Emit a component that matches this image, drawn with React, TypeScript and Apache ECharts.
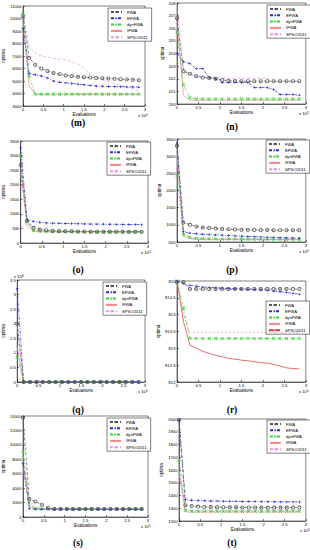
import React, { useEffect, useRef } from "react";
import * as echarts from "echarts";

const evals = [0, 0.15, 0.3, 0.45, 0.6, 0.75, 0.9, 1.05, 1.2, 1.35, 1.5, 1.65, 1.8, 1.95, 2.1, 2.25, 2.4, 2.55, 2.7, 2.85];
const algNames = ["FWA", "EFWA", "dynFWA", "IFWA", "SPSO2011"];
const panelLabels = ["(m)", "(n)", "(o)", "(p)", "(q)", "(r)", "(s)", "(t)"];
const xTicks = { min: 0, max: 3, interval: 0.5 };

// (m)
const mFWA = [10200, 6850, 6300, 6000, 5800, 5650, 5550, 5450, 5400, 5350, 5300, 5280, 5250, 5230, 5200, 5180, 5150, 5120, 5100, 5070];
const mEFWA = [9200, 5600, 5500, 5400, 5250, 5000, 4900, 4850, 4800, 4750, 4700, 4650, 4600, 4580, 4560, 4550, 4540, 4530, 4520, 4510];
const mDyn = [10400, 5400, 3950, 3950, 3950, 3950, 3950, 3950, 3950, 3950, 3950, 3950, 3950, 3950, 3950, 3950, 3950, 3950, 3950, 3950];
const mIFWA = [9800, 4600, 3960, 3950, 3950, 3950, 3950, 3950, 3950, 3950, 3945, 3945, 3945, 3945, 3945, 3940, 3940, 3940, 3940, 3940];
const mSPSO = [10300, 7700, 7300, 7000, 6900, 6800, 6750, 6700, 6550, 6350, 6000, 5600, 5300, 5100, 4950, 4800, 4650, 4500, 4350, 4250];
// (n)
const nFWA = [206.8, 202.6, 202.4, 202.2, 202.1, 202.05, 202.0, 201.9, 201.85, 201.82, 201.8, 201.8, 201.8, 201.8, 201.8, 201.8, 201.8, 201.8, 201.8, 201.8];
const nEFWA = [204.0, 203.35, 203.2, 202.8, 202.8, 202.1, 202.0, 201.7, 201.7, 201.7, 201.7, 201.7, 201.3, 201.3, 201.3, 201.15, 200.75, 200.75, 200.75, 200.7];
const nDyn = [205.7, 201.5, 200.5, 200.4, 200.4, 200.4, 200.4, 200.4, 200.4, 200.4, 200.4, 200.4, 200.4, 200.4, 200.4, 200.4, 200.4, 200.4, 200.4, 200.4];
const nIFWA = [206.6, 200.7, 200.3, 200.3, 200.3, 200.3, 200.3, 200.3, 200.3, 200.3, 200.3, 200.3, 200.3, 200.3, 200.3, 200.3, 200.3, 200.3, 200.3, 200.3];
const nSPSO = [207.8, 202.8, 202.3, 202.2, 202.15, 202.1, 202.1, 202.05, 202.05, 202.05, 202.05, 202.05, 202.05, 202.05, 202.05, 201.8, 201.8, 201.8, 201.8, 201.8];
// (o)
const oFWA = [2680, 760, 520, 460, 440, 420, 410, 400, 400, 395, 395, 390, 390, 390, 390, 385, 385, 385, 385, 385];
const oEFWA = [3270, 800, 740, 710, 690, 680, 675, 670, 665, 660, 655, 650, 648, 645, 642, 640, 637, 635, 632, 630];
const oDyn = [3020, 720, 430, 400, 395, 390, 390, 385, 385, 385, 380, 380, 380, 380, 380, 380, 380, 380, 380, 380];
const oIFWA = [2500, 570, 400, 385, 380, 380, 380, 380, 380, 380, 380, 380, 380, 380, 380, 380, 380, 380, 380, 380];
const oSPSO = [2340, 680, 460, 420, 410, 405, 400, 400, 400, 400, 400, 400, 400, 400, 400, 400, 400, 400, 400, 400];
// (p)
const pFWA = [3300, 1070, 1000, 955, 925, 905, 890, 880, 870, 865, 860, 855, 850, 850, 848, 845, 845, 843, 842, 840];
const pEFWA = [3380, 800, 760, 740, 725, 715, 705, 700, 690, 680, 670, 660, 655, 648, 640, 635, 628, 622, 618, 612];
const pDyn = [2450, 720, 640, 610, 600, 595, 590, 590, 588, 585, 585, 583, 582, 580, 580, 578, 578, 575, 575, 575];
const pIFWA = [2990, 665, 590, 575, 570, 570, 570, 570, 570, 570, 570, 570, 570, 570, 570, 570, 570, 570, 570, 570];
const pSPSO = [3200, 720, 620, 600, 590, 585, 585, 585, 585, 585, 585, 585, 585, 585, 585, 585, 585, 585, 585, 585];
// (q)
const qFWA = [2.0, 0, 0, 0, 0, 0, 0, 0, 0, 0, 0, 0, 0, 0, 0, 0, 0, 0, 0, 0];
const qEFWA = [3.2, 0, 0, 0, 0, 0, 0, 0, 0, 0, 0, 0, 0, 0, 0, 0, 0, 0, 0, 0];
const qDyn = [0.85, 0, 0, 0, 0, 0, 0, 0, 0, 0, 0, 0, 0, 0, 0, 0, 0, 0, 0, 0];
const qIFWA = [1.2, 0, 0, 0, 0, 0, 0, 0, 0, 0, 0, 0, 0, 0, 0, 0, 0, 0, 0, 0];
const qSPSO = [1.9, 0, 0, 0, 0, 0, 0, 0, 0, 0, 0, 0, 0, 0, 0, 0, 0, 0, 0, 0];
// (r)
const rFWA = [814.97, 814.96, 814.76, 814.76, 814.76, 814.76, 814.76, 814.76, 814.76, 814.76, 814.76, 814.76, 814.76, 814.76, 814.76, 814.76, 814.76, 814.76, 814.76, 814.76];
const rEFWA = [815, 814.92, 814.87, 814.85, 814.82, 814.81, 814.8, 814.79, 814.78, 814.77, 814.76, 814.75, 814.74, 814.73, 814.72, 814.7, 814.68, 814.66, 814.63, 814.61];
const rDyn = [815, 814.2, 813.29, 813.29, 813.29, 813.29, 813.29, 813.29, 813.29, 813.29, 813.29, 813.29, 813.29, 813.29, 813.29, 813.29, 813.29, 813.29, 813.29, 813.29];
const rIFWA = [815, 814.0, 813.47, 813.47, 813.47, 813.47, 813.47, 813.47, 813.47, 813.47, 813.47, 813.47, 813.47, 813.47, 813.47, 813.47, 813.47, 813.47, 813.47, 813.47];
const rSPSO = [815, 813.8, 813.1, 813.0, 812.91, 812.85, 812.79, 812.75, 812.7, 812.68, 812.65, 812.63, 812.6, 812.58, 812.56, 812.52, 812.47, 812.42, 812.4, 812.39];
// (s)
const sFWA = [13800, 2490, 2165, 1700, 1240, 1100, 1100, 1100, 1100, 1100, 1100, 1100, 1100, 1100, 1100, 1100, 1100, 1100, 1100, 1100];
const sEFWA = [7460, 1150, 1100, 1080, 1080, 1080, 1080, 1080, 1080, 1080, 1080, 1080, 1080, 1080, 1080, 1080, 1080, 1080, 1080, 1080];
const sDyn = [9070, 1930, 1150, 1100, 1100, 1100, 1100, 1100, 1100, 1100, 1100, 1100, 1100, 1100, 1100, 1100, 1100, 1100, 1100, 1100];
const sIFWA = [7000, 1500, 1150, 1100, 1100, 1100, 1100, 1100, 1100, 1100, 1100, 1100, 1100, 1100, 1100, 1100, 1100, 1100, 1100, 1100];
const sSPSO = [8400, 2200, 1500, 1200, 1150, 1120, 1110, 1100, 1100, 1100, 1100, 1100, 1100, 1100, 1100, 1100, 1100, 1100, 1100, 1100];
// (t)
const tFWA = [1995, 1324, 1318, 1313, 1310, 1309, 1308, 1308, 1307, 1307, 1306, 1306, 1306, 1305, 1305, 1305, 1305, 1305, 1305, 1305];
const tEFWA = [1990, 1368, 1363, 1360, 1358, 1357, 1356, 1355, 1355, 1354, 1353, 1353, 1352, 1352, 1351, 1351, 1350, 1350, 1350, 1350];
const tDyn = [1680, 1284, 1276, 1276, 1276, 1276, 1276, 1276, 1276, 1276, 1276, 1276, 1276, 1276, 1276, 1276, 1276, 1276, 1276, 1276];
const tIFWA = [1600, 1271, 1270, 1270, 1270, 1270, 1270, 1270, 1270, 1270, 1270, 1270, 1270, 1270, 1270, 1270, 1270, 1270, 1270, 1270];
const tSPSO = [1560, 1290, 1285, 1285, 1285, 1285, 1285, 1285, 1285, 1285, 1285, 1285, 1285, 1285, 1285, 1285, 1285, 1285, 1285, 1285];

const panelData = [
  [mFWA, mEFWA, mDyn, mIFWA, mSPSO],
  [nFWA, nEFWA, nDyn, nIFWA, nSPSO],
  [oFWA, oEFWA, oDyn, oIFWA, oSPSO],
  [pFWA, pEFWA, pDyn, pIFWA, pSPSO],
  [qFWA, qEFWA, qDyn, qIFWA, qSPSO],
  [rFWA, rEFWA, rDyn, rIFWA, rSPSO],
  [sFWA, sEFWA, sDyn, sIFWA, sSPSO],
  [tFWA, tEFWA, tDyn, tIFWA, tSPSO],
];
const yMins = [3000, 200, 0, 500, 0, 812, 0, 1200];
const yMaxs = [11000, 208, 3500, 3500, 3.5, 815, 14000, 2000];
const yIntervals = [1000, 1, 500, 500, 0.5, 0.5, 2000, 100];

// layout
const grids = [
  { left: 20, top: 6, width: 125, height: 100 },
  { left: 177, top: 3, width: 129, height: 101 },
  { left: 18, top: 141, width: 130, height: 102 },
  { left: 177, top: 139, width: 129, height: 103 },
  { left: 16, top: 280, width: 129, height: 102 },
  { left: 177, top: 281, width: 129, height: 101 },
  { left: 18, top: 416, width: 130, height: 101 },
  { left: 179, top: 419, width: 128, height: 102 },
];
const legendPos = [
  { left: 108, top: 8 },
  { left: 267, top: 5 },
  { left: 107, top: 142 },
  { left: 266, top: 140 },
  { left: 103, top: 282 },
  { left: 266, top: 301 },
  { left: 107, top: 418 },
  { left: 267, top: 420 },
];
const labelPos = [
  [78, 123], [232, 127], [78, 270], [232, 270], [78, 410], [232, 410], [78, 543], [232, 543],
];

const FONT = "Liberation Sans, Arial, sans-serif";

const RING = "path://M5,0A5,5 0 1,1 5,10A5,5 0 1,1 5,0Z M5,2A3,3 0 1,0 5,8A3,3 0 1,0 5,2Z";
const STAR = "path://M5,0L6.2,3.8L10,5L6.2,6.2L5,10L3.8,6.2L0,5L3.8,3.8Z";
const CROSS = "path://M0,1.5L1.5,0L5,3.5L8.5,0L10,1.5L6.5,5L10,8.5L8.5,10L5,6.5L1.5,10L0,8.5L3.5,5Z";

const styles = [
  { color: "#555555", line: [3, 2], symbol: RING, size: 4 },
  { color: "#2a2ad8", line: [3, 1.5, 1, 1.5], symbol: STAR, size: 3.5 },
  { color: "#3ecf3e", line: [3, 1.5, 1, 1.5], symbol: CROSS, size: 3.5 },
  { color: "#f08a8a", line: "solid", symbol: "none", size: 0 },
  { color: "#e69ae6", line: [3, 2], symbol: "none", size: 0 },
];

export default function App() {
  const ref = useRef<HTMLDivElement>(null);
  useEffect(() => {
    if (!ref.current) return;
    const chart = echarts.init(ref.current, undefined, { renderer: "svg" });
    const series: any[] = [];
    panelData.forEach((arrs, pi) => {
      arrs.forEach((vals, ai) => {
        const st = styles[ai];
        let color = st.color;
        let lineType: any = st.line;
        if (pi === 5 && ai === 4) {
          color = "#e03030";
          lineType = "solid";
        }
        if (pi === 5 && ai === 3) {
          lineType = [2, 2];
        }
        series.push({
          type: "line",
          name: algNames[ai],
          xAxisIndex: pi,
          yAxisIndex: pi,
          data: evals.map((x, k) => [x, vals[k]]),
          symbol: st.symbol,
          symbolSize: st.size,
          showSymbol: st.symbol !== "none",
          itemStyle: { color, borderWidth: 0 },
          lineStyle: { color, type: lineType, width: 0.7 },
          emphasis: { disabled: true },
          z: 10 - ai,
        });
      });
    });
    const xAxes = grids.map((_, i) => ({
      type: "value",
      gridIndex: i,
      min: xTicks.min,
      max: xTicks.max,
      interval: xTicks.interval,
      name: "Evaluations",
      nameLocation: "middle",
      nameGap: 5.5,
      nameTextStyle: { fontSize: 4.5, fontFamily: FONT, color: "#000" },
      axisLine: { lineStyle: { color: "#000", width: 0.5 } },
      axisTick: { inside: true, length: 2, lineStyle: { color: "#000", width: 0.5 } },
      axisLabel: { fontSize: 4.2, margin: 1.5, color: "#000", fontFamily: FONT, formatter: (v: number) => String(v) },
      splitLine: { show: false },
    }));
    const yAxes = grids.map((_, i) => ({
      type: "value",
      gridIndex: i,
      min: yMins[i],
      max: yMaxs[i],
      interval: yIntervals[i],
      name: "optima",
      nameLocation: "middle",
      nameRotate: 90,
      nameGap: i === 4 ? 9 : i % 2 === 0 ? 14 : 12,
      nameTextStyle: { fontSize: 4.5, fontFamily: FONT, color: "#000" },
      axisLine: { show: true, lineStyle: { color: "#000", width: 0.5 } },
      axisTick: { show: true, inside: true, length: 2, lineStyle: { color: "#000", width: 0.5 } },
      axisLabel: { fontSize: 4.2, margin: 1.5, color: "#000", fontFamily: FONT, formatter: (v: number) => String(v) },
      splitLine: { show: false },
    }));
    const legends = legendPos.map((p, i) => ({
      left: p.left,
      top: p.top,
      orient: "vertical",
      data: algNames.map((n, ai) => {
        if (i === 5 && ai === 4) {
          return { name: n, lineStyle: { color: "#e03030", type: "solid" } };
        }
        return { name: n };
      }),
      itemWidth: 11,
      itemHeight: 3,
      itemGap: 2.3,
      padding: [2, 4, 2, 2],
      borderColor: "#000",
      borderWidth: 0.5,
      backgroundColor: "#fff",
      textStyle: { fontSize: 4.2, fontFamily: FONT, color: "#000" },
      selectedMode: false,
    }));
    const graphics: any[] = [];
    labelPos.forEach((p, i) => {
      graphics.push({
        type: "text",
        x: p[0],
        y: p[1],
        style: {
          text: panelLabels[i],
          fontSize: 9.5,
          fontWeight: "bold",
          fontFamily: "Liberation Serif, serif",
          fill: "#000",
          align: "center",
          verticalAlign: "middle",
        },
      });
    });
    grids.forEach((g, i) => {
      graphics.push({
        type: "text",
        x: g.left + g.width - 7,
        y: g.top + g.height + 7,
        style: {
          text: "x 10{s|5}",
          rich: { s: { fontSize: 3, verticalAlign: "top", fontFamily: FONT } },
          fontSize: 4.2,
          fontFamily: FONT,
          fill: "#000",
          align: "left",
        },
      });
    });
    graphics.push({
      type: "text",
      x: grids[4].left - 2,
      y: grids[4].top - 6,
      style: {
        text: "x 10{s|8}",
        rich: { s: { fontSize: 3, fontFamily: FONT } },
        fontSize: 4.2,
        fontFamily: FONT,
        fill: "#000",
      },
    });
    chart.setOption({
      animation: false,
      backgroundColor: "#fff",
      grid: grids.map((g) => ({ ...g, show: true, borderColor: "#000", borderWidth: 0.5, backgroundColor: "#fff", containLabel: false })),
      xAxis: xAxes,
      yAxis: yAxes,
      legend: legends,
      series,
      graphic: graphics,
    });
    return () => chart.dispose();
  }, []);
  return (
    <div
      ref={ref}
      style={{ position: "absolute", left: 0, top: 0, width: 310, height: 550 }}
    />
  );
}
